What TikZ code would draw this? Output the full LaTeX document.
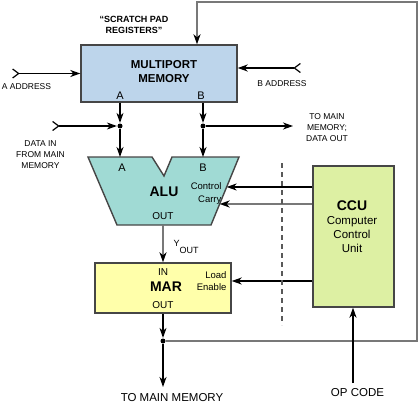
\documentclass[tikz,border=0pt]{standalone}
\usepackage{fontspec}
\setmainfont{Liberation Sans}
\usepackage{xcolor}
\usetikzlibrary{positioning,arrows.meta,calc}

\definecolor{memblue}{RGB}{189,213,235}
\definecolor{aluteal}{RGB}{160,218,212}
\definecolor{maryellow}{RGB}{255,255,170}
\definecolor{ccugreen}{RGB}{221,240,163}
\definecolor{boxedge}{RGB}{70,70,70}
\definecolor{busgray}{RGB}{120,120,120}

\begin{document}
\begin{tikzpicture}[
    x=1pt, y=-1pt,
    every node/.style={font=\fontsize{8.5}{11}\selectfont, inner sep=0pt},
    >={Stealth[length=10pt,width=7pt,inset=3pt]},
    line width=1.2pt,
    box/.style={draw=boxedge, line width=1.4pt},
    dot/.style={circle, fill, inner sep=0pt, minimum size=5pt},
    tail/.style={{Straight Barb[reversed,length=6pt,width=9pt]}->},
    garrow/.style={draw=busgray, line width=1.8pt, -{Stealth[length=10pt,width=7pt,inset=3pt,black]}},
    port/.style={font=\fontsize{11}{13}\selectfont},
    big/.style={font=\bfseries\fontsize{14}{16}\selectfont}
]
    \useasboundingbox (0,0) rectangle (419,409);

    \node (mem) [box, fill=memblue, minimum width=156pt, minimum height=57pt] at (159,73.5) {};
    \node (memtxt) [font=\bfseries\fontsize{11.5}{14}\selectfont, align=center] at (164,72) {MULTIPORT\\MEMORY};
    \node (scratch) [font=\bfseries\fontsize{9}{11}\selectfont, align=center] at (134,24.5) {“SCRATCH PAD\\REGISTERS”};
    \node (portA) [port] at (120,96) {A};
    \node (portB) [port] at (201,96) {B};

    \coordinate (aluTL) at (88,157);
    \coordinate (aluTR) at (239,157);
    \coordinate (aluBR) at (211,225);
    \coordinate (aluBL) at (117,225);
    \draw[box, fill=aluteal] (aluTL) -- (152,157) -- (164,176) -- (172,157) -- (aluTR) -- (aluBR) -- (aluBL) -- cycle;
    \node (aluA) [port] at (122,168) {A};
    \node (aluB) [port] at (203,168) {B};
    \node (alu) [big] at (164,192) {ALU};
    \node (aluout) [font=\fontsize{10}{12}\selectfont] at (163,216) {OUT};
    \node (ctrl) [font=\fontsize{9.5}{13}\selectfont, align=right, anchor=east] at (222,193.5) {Control\\Carry};

    \node (mar) [box, fill=maryellow, minimum width=136pt, minimum height=50pt] at (163,288) {};
    \node (marin) [font=\fontsize{10}{12}\selectfont] at (163,272) {IN};
    \node (martxt) [big] at (166,287) {MAR};
    \node (marout) [font=\fontsize{10}{12}\selectfont] at (163,305) {OUT};
    \node (load) [font=\fontsize{9.5}{12}\selectfont, align=right, anchor=east] at (227,281) {Load\\Enable};

    \node (ccu) [box, fill=ccugreen, minimum width=81pt, minimum height=141pt] at (353.5,236.5) {};
    \node (ccuname) [big] at (352,206) {CCU};
    \node (ccudesc) [font=\fontsize{11.5}{14}\selectfont, align=center] at (352,235) {Computer\\Control\\Unit};

    \node (dotA) [dot] at (120,126) {};
    \node (dotB) [dot] at (203,126) {};
    \node (dotM) [dot] at (163,341) {};

    \coordinate (aaddr) at (12,73.5);
    \coordinate (baddr) at (301,68);
    \coordinate (datain) at (52,126);
    \coordinate (dataout) at (293,126);
    \coordinate (aluY) at (163,225);
    \coordinate (tomain) at (163,387);
    \coordinate (opc) at (353,383);
    \coordinate (fbcorner) at (417,2);
    \coordinate (ctrlin) at ($(aluTR)!0.441!(aluBR)$);
    \coordinate (carryin) at ($(aluTR)!0.691!(aluBR)$);
    \coordinate (loadin) at ([yshift=7pt]mar.east);

    \node (aaddrtxt) at (26.5,87) {A ADDRESS};
    \node (baddrtxt) at (282,84) {B ADDRESS};
    \node (dataintxt) [align=center] at (40.5,155) {DATA IN\\FROM MAIN\\MEMORY};
    \node (dataouttxt) [align=center] at (327,128) {TO MAIN\\MEMORY;\\DATA OUT};
    \node (yout) [anchor=base west, font=\fontsize{9}{11}\selectfont] at (173,246.5) {Y\raisebox{-6.5pt}{OUT}};
    \node (tomaintxt) [font=\fontsize{11.5}{14}\selectfont] at (172,398) {TO MAIN MEMORY};
    \node (opctxt) [font=\fontsize{11.5}{14}\selectfont] at (357.5,393) {OP CODE};

    \draw[tail] (aaddr) -- (mem.west);
    \draw[tail] (baddr) -- (mem.east |- baddr);
    \draw[->] (mem.south -| dotA) -- (dotA);
    \draw[->] (mem.south -| dotB) -- (dotB);
    \draw[tail] (datain) -- (dotA);
    \draw[->] (dotB) -- (dataout);
    \draw[->] (dotA) -- (dotA |- aluTL);
    \draw[->] (dotB) -- (dotB |- aluTL);

    \draw[garrow] (aluY) -- (mar.north);
    \draw[->] (mar.south) -- (dotM);
    \draw[->] (dotM) -- (tomain);
    \draw[garrow] (dotM) -| (fbcorner) -| ([xshift=38pt]mem.north);

    \draw[->] (ccu.west |- ctrlin) -- (ctrlin);
    \draw[garrow] (ccu.west |- carryin) -- (carryin);
    \draw[->] (ccu.west |- loadin) -- (loadin);
    \draw[->] (opc) -- (ccu.south -| opc);

    \draw[draw=black!65, dash pattern=on 5pt off 4pt] (282,163) -- (282,325);
\end{tikzpicture}
\end{document}
